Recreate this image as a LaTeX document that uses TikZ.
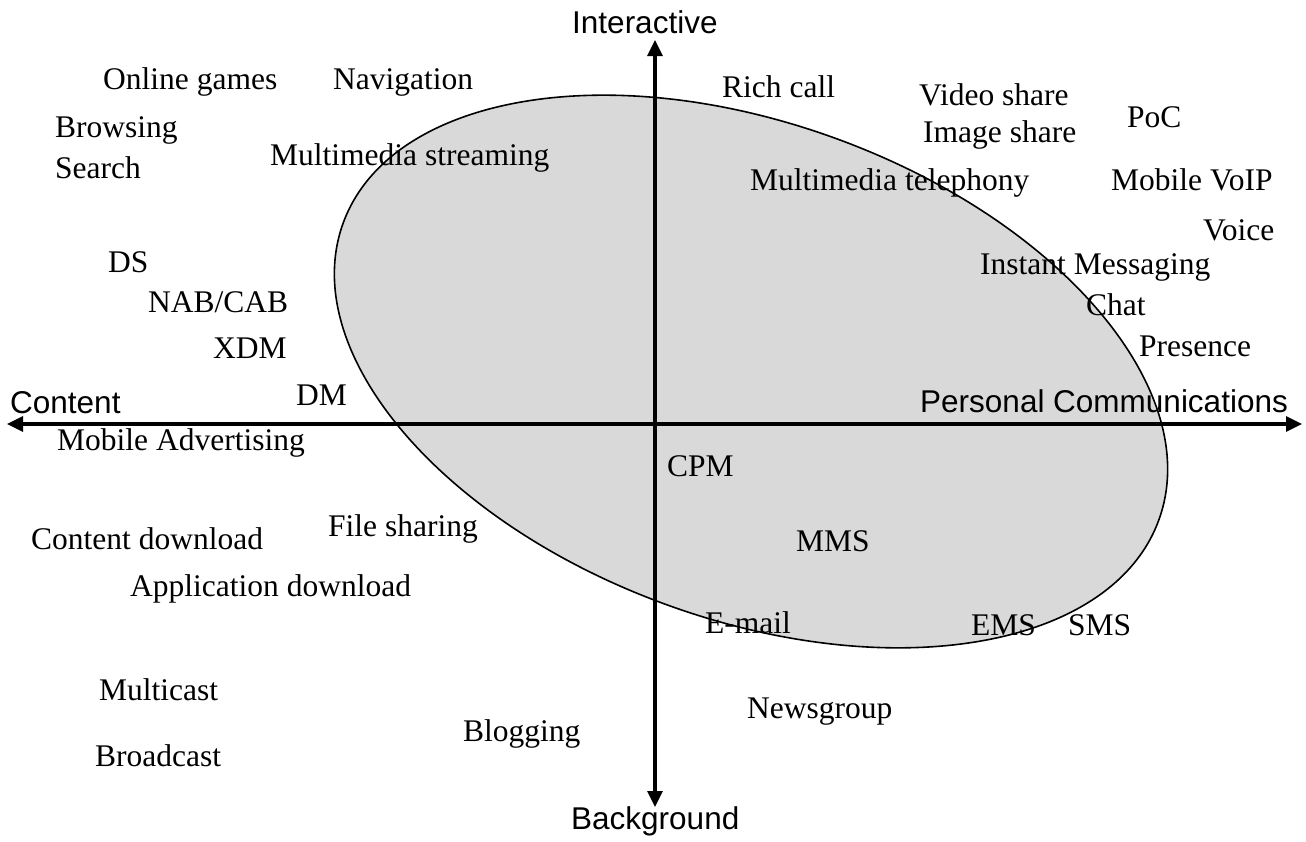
\documentclass[tikz,border=0pt]{standalone}
\usepackage{fontspec}
\setmainfont{Liberation Serif}
\newfontfamily\axisfont{Liberation Sans}
\usetikzlibrary{arrows.meta}

\tikzset{
  service/.style={anchor=base west, inner sep=0pt, font=\fontsize{31.5}{36}\selectfont},
  axislabel/.style={anchor=base west, inner sep=0pt, font=\axisfont\fontsize{31.5}{36}\selectfont},
  axisline/.style={line width=3.2pt, {Triangle[length=16pt,width=15pt]}-{Triangle[length=16pt,width=15pt]}},
  zone/.style={fill=black!15, draw=black, line width=1.6pt}
}

\begin{document}
\begin{tikzpicture}[x=1pt, y=-1pt]
  \useasboundingbox (0,0) rectangle (1306,841);

  % shaded region of personal communication services
  \filldraw[zone] (751,371.5) ellipse [x radius=434pt, y radius=248pt, rotate=-20];

  % axes
  \coordinate (west)  at (7,424);
  \coordinate (east)  at (1302,424);
  \coordinate (north) at (655,40);
  \coordinate (south) at (655,807);
  \draw[axisline] (west) -- (east);
  \draw[axisline] (south) -- (north);

  % axis labels
  \node[axislabel] (interactive) at (572,33)  {Interactive};
  \node[axislabel] (background)  at (571,829) {Background};
  \node[axislabel] (content)     at (10,413)  {Content};
  \node[axislabel] (personal)    at (920,412) {Personal Communications};

  % services
  \node[service] (games)     at (103,89)  {Online games};
  \node[service] (navig)     at (333,89)  {Navigation};
  \node[service] (richcall)  at (722,97)  {Rich call};
  \node[service] (videosh)   at (919,105) {Video share};
  \node[service] (imagesh)   at (923,142) {Image share};
  \node[service] (poc)       at (1127,127) {PoC};
  \node[service] (browsing)  at (55,137)  {Browsing};
  \node[service] (search)    at (55,178)  {Search};
  \node[service] (streaming) at (270,165) {Multimedia streaming};
  \node[service] (telephony) at (750,190) {Multimedia telephony};
  \node[service] (voip)      at (1111,190) {Mobile VoIP};
  \node[service] (voice)     at (1203,240) {Voice};
  \node[service] (ds)        at (108,272) {DS};
  \node[service] (im)        at (980,274) {Instant Messaging};
  \node[service] (nabcab)    at (148,312) {NAB/CAB};
  \node[service] (chat)      at (1086,315) {Chat};
  \node[service] (xdm)       at (213,358) {XDM};
  \node[service] (presence)  at (1139,356) {Presence};
  \node[service] (dm)        at (296,405) {DM};
  \node[service] (advert)    at (57,450)  {Mobile Advertising};
  \node[service] (cpm)       at (667,476) {CPM};
  \node[service] (filesh)    at (328,536) {File sharing};
  \node[service] (contdl)    at (31,549)  {Content download};
  \node[service] (mms)       at (796,551) {MMS};
  \node[service] (appdl)     at (130,596) {Application download};
  \node[service] (email)     at (705,633) {E-mail};
  \node[service] (ems)       at (971,635) {EMS};
  \node[service] (sms)       at (1068,635) {SMS};
  \node[service] (multicast) at (99,700)  {Multicast};
  \node[service] (newsgroup) at (747,718) {Newsgroup};
  \node[service] (blogging)  at (463,741) {Blogging};
  \node[service] (broadcast) at (95,766)  {Broadcast};
\end{tikzpicture}
\end{document}
